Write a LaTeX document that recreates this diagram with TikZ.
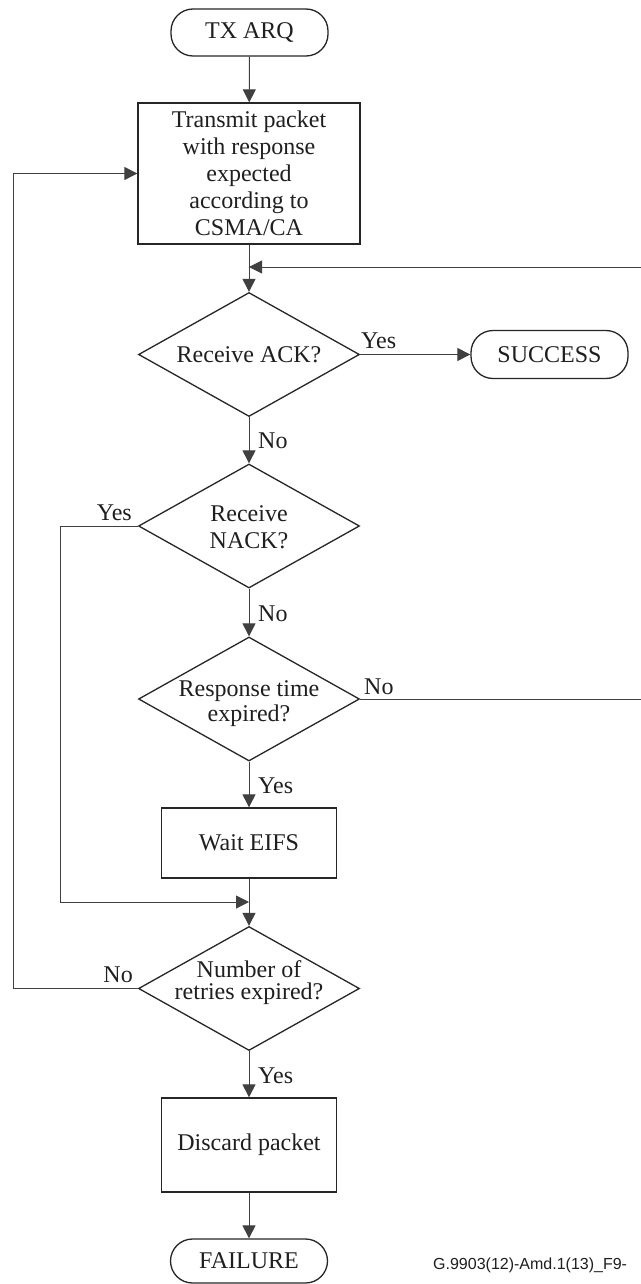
\documentclass[tikz,border=0pt]{standalone}
\usepackage{fontspec}
\setmainfont{Liberation Serif}
\newfontfamily\figsans{Liberation Sans}
\usetikzlibrary{shapes.geometric,arrows.meta}
\begin{document}
\begin{tikzpicture}[x=1pt,y=-1pt,
  every node/.style={font=\fontsize{24}{27}\selectfont, text=black!88},
  term/.style={draw=black!85, line width=1.3pt, rounded corners=22pt, minimum width=157pt, minimum height=47pt, inner sep=0pt},
  proc/.style={draw=black!85, line width=1.3pt, inner sep=0pt, align=center},
  dec/.style={draw=black!85, line width=1.3pt, diamond, inner sep=0pt, minimum width=221pt, minimum height=124pt},
  dtext/.style={align=center, inner sep=0pt},
  conn/.style={draw=black!75, line width=1pt, -{Triangle[length=13pt,width=13pt]}},
  lab/.style={inner sep=0pt}
]
\useasboundingbox (0,0) rectangle (640,1284);
\fill[white] (0,0) rectangle (640,1284);

% nodes
\node[term] (tx) at (249.5,32.5) {TX ARQ};
\node[proc, minimum width=222pt, minimum height=141pt] (tp) at (249,173.5) {Transmit packet\\with response\\expected\\according to\\CSMA/CA};
\coordinate (j1) at (249,267);
\node[dec] (ack) at (249,354.5) {};
\node[dtext] (ackT) at (249,355) {Receive ACK?};
\node[term, minimum width=157pt, minimum height=48pt] (succ) at (549.5,354.5) {SUCCESS};
\node[dec] (nack) at (249,526) {};
\node[dtext] (nackT) at (249,527) {Receive\\NACK?};
\node[dec] (resp) at (249,699) {};
\node[dtext, font=\fontsize{24}{25}\selectfont] (respT) at (249,704) {Response time\\expired?};
\node[proc, minimum width=175pt, minimum height=70pt] (wait) at (249,843) {Wait EIFS};
\coordinate (j2) at (249,902);
\node[dec] (retr) at (249,988.5) {};
\node[dtext, font=\fontsize{24}{22}\selectfont] (retrT) at (249,983) {Number of\\retries expired?};
\node[proc, minimum width=175pt, minimum height=94pt] (disc) at (249,1145) {Discard packet};
\node[term, minimum height=44pt] (fail) at (249,1261) {FAILURE};

\node[anchor=base west, inner sep=0pt, font=\figsans\fontsize{16}{18}\selectfont] (fig) at (433,1269) {G.9903(12)-Amd.1(13)\_F9-};

% helper coordinates
\coordinate (rc1) at (643,699);
\coordinate (rc2) at (643,267);
\coordinate (nk1) at (60,902);
\coordinate (lp1) at (13,173.5);

% connectors
\draw[conn] (tx) -- (tp);
\draw[conn] (tp.south) -- (ack.north);
\draw[conn] (resp.east) -- (rc1) -- (rc2) -- (j1);
\draw[conn] (ack.east) -- (succ.west);
\draw[conn] (ack.south) -- (nack.north);
\draw[conn] (nack.south) -- (resp.north);
\draw[conn] (nack.west) -| (nk1) -- (j2);
\draw[conn] (resp.south) -- (wait.north);
\draw[conn] (wait.south) -- (retr.north);
\draw[conn] (retr.west) -| (lp1) -- (tp.west);
\draw[conn] (retr.south) -- (disc.north);
\draw[conn] (disc.south) -- (fail.north);

% labels
\node[lab, anchor=base west] (l1) at (361,348) {Yes};
\node[lab, anchor=base west] (l2) at (258,448) {No};
\node[lab, anchor=base east] (l3) at (132,520) {Yes};
\node[lab, anchor=base west] (l4) at (258,621) {No};
\node[lab, anchor=base west] (l5) at (364,694) {No};
\node[lab, anchor=base west] (l6) at (258,793) {Yes};
\node[lab, anchor=base east] (l7) at (133,982) {No};
\node[lab, anchor=base west] (l8) at (258,1083) {Yes};
\end{tikzpicture}
\end{document}
